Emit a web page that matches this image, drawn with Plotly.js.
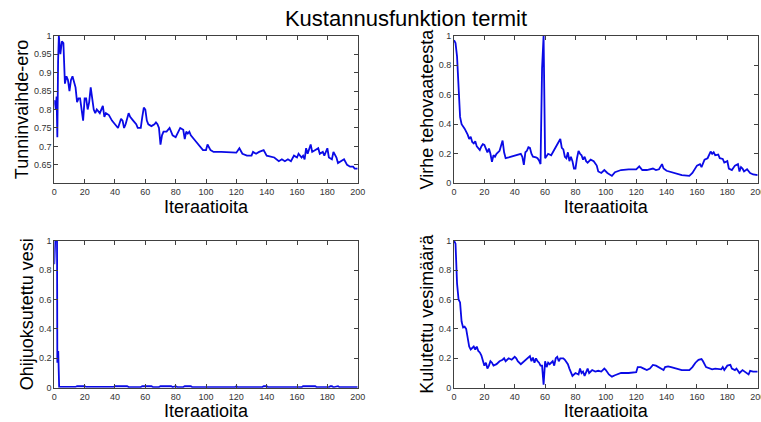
<!DOCTYPE html>
<html>
<head>
<meta charset="utf-8">
<script src="https://cdn.plot.ly/plotly-3.0.1.min.js"></script>
<style>html,body{margin:0;padding:0;background:#fff;}#chart{width:761px;height:422px;}</style>
</head>
<body>
<div id="chart"></div>
<script>
// ---- Data ----
var chartTitle = "Kustannusfunktion termit";
var xTitle = "Iteraatioita";
var yTitles = ["Tunninvaihde-ero", "Virhe tehovaateesta", "Ohijuoksutettu vesi", "Kulutettu vesimäärä"];

var xTickVals = [0, 20, 40, 60, 80, 100, 120, 140, 160, 180, 200];
var yTickValsA = [0.65, 0.7, 0.75, 0.8, 0.85, 0.9, 0.95, 1];
var yTickTextA = ["0.65", "0.7", "0.75", "0.8", "0.85", "0.9", "0.95", "1"];
var yTickValsB = [0, 0.2, 0.4, 0.6, 0.8, 1];
var yTickTextB = ["0", "0.2", "0.4", "0.6", "0.8", "1"];

// Tunninvaihde-ero
var tvX = [0,1,1.5,2,2.5,3,4,5,6,7,8,9,10,11,12,13,14,15,16,17,18,19,20,21,22,23,24,25,26,27,28,30,32,33,34,36,38,40,42,44,45,46,47,49,50,52,54,55,57,58,59,60,61,62,64,66,67,68,69,70,71,72,74,76,78,80,82,83,85,86,87,88,89,90,92,94,96,98,100,101,103,105,110,115,120,122,124,127,130,131,133,135,138,140,145,148,150,152,154,156,158,160,161,163,164,165,166,167,169,170,172,174,175,177,178,180,181,183,184,186,187,189,191,193,195,197,198,200];
var tvY = [0.825,0.8,0.835,0.725,0.93,1.0,0.95,0.985,0.98,0.87,0.89,0.88,0.85,0.88,0.89,0.87,0.86,0.82,0.83,0.83,0.80,0.77,0.83,0.83,0.80,0.82,0.86,0.82,0.80,0.79,0.80,0.79,0.81,0.78,0.79,0.785,0.77,0.76,0.75,0.775,0.77,0.75,0.76,0.79,0.78,0.77,0.76,0.75,0.75,0.78,0.805,0.80,0.77,0.76,0.755,0.76,0.765,0.76,0.75,0.705,0.73,0.74,0.74,0.75,0.73,0.725,0.74,0.75,0.745,0.72,0.74,0.735,0.74,0.73,0.72,0.71,0.70,0.69,0.69,0.705,0.69,0.685,0.685,0.685,0.683,0.695,0.68,0.675,0.675,0.685,0.68,0.685,0.69,0.675,0.67,0.66,0.665,0.66,0.665,0.66,0.675,0.67,0.68,0.67,0.675,0.665,0.695,0.68,0.705,0.685,0.69,0.695,0.68,0.685,0.675,0.695,0.67,0.665,0.685,0.67,0.655,0.66,0.665,0.65,0.645,0.645,0.64,0.64];

// Virhe tehovaateesta
var vtX = [0,1,2,3,4,5,7,9,10,11,12,13,14,15,16,17,18,19,20,21,22,23,24,25,26,27,28,30,31,32,33,34,36,38,40,42,44,45,46,47,48,49,50,51,52,54,55,56,57,58,59,60,61,62,64,65,67,68,70,71,72,73,74,75,76,77,78,79,80,81,82,83,84,85,86,87,88,90,92,94,95,97,99,101,103,104,106,108,110,115,120,122,124,127,130,131,133,135,137,138,140,145,150,155,157,160,162,163,165,167,168,169,170,171,172,174,175,177,178,180,181,183,185,187,188,189,190,191,193,195,197,199,200];
var vtY = [0.97,0.95,0.86,0.6,0.45,0.4,0.37,0.33,0.3,0.315,0.28,0.27,0.285,0.25,0.24,0.225,0.25,0.265,0.26,0.24,0.21,0.235,0.2,0.145,0.19,0.18,0.2,0.22,0.26,0.29,0.21,0.17,0.175,0.18,0.19,0.195,0.2,0.18,0.125,0.21,0.22,0.245,0.24,0.2,0.18,0.175,0.17,0.155,0.13,0.78,1.0,0.17,0.19,0.2,0.19,0.21,0.24,0.26,0.3,0.24,0.23,0.18,0.17,0.21,0.15,0.18,0.15,0.1,0.1,0.17,0.22,0.2,0.19,0.16,0.18,0.15,0.14,0.16,0.15,0.12,0.08,0.07,0.09,0.07,0.06,0.05,0.075,0.085,0.09,0.095,0.095,0.115,0.09,0.09,0.095,0.1,0.09,0.095,0.13,0.1,0.085,0.07,0.055,0.05,0.07,0.12,0.13,0.11,0.16,0.17,0.2,0.215,0.2,0.21,0.19,0.195,0.17,0.165,0.14,0.15,0.1,0.09,0.12,0.13,0.08,0.11,0.1,0.08,0.095,0.07,0.06,0.055,0.055];

// Ohijuoksutettu vesi
var ohX = [0,0.6,1.8,2,2.6,3.2,14,15,20,21,39,40,48,49,57,58,64,65,69,70,77,78,80,81,85,86,90,91,119,120,121,137,138,140,141,163,164,172,173,181,182,183,184,187,188,200];
var ohY = [0.84,1.0,1.0,0.17,0.25,0.005,0.005,0.01,0.01,0.005,0.005,0.01,0.01,0.004,0.004,0.01,0.01,0.004,0.004,0.01,0.01,0.004,0.01,0.004,0.004,0.01,0.01,0.003,0.003,0.01,0.003,0.003,0.01,0.01,0.003,0.003,0.01,0.01,0.003,0.003,0.01,0.01,0.003,0.01,0.003,0.003];

// Kulutettu vesimäärä
var kvX = [0,1,2,3,4,5,6,7,8,9,10,11,12,13,14,15,16,17,18,19,20,21,22,23,24,25,26,28,30,32,33,34,36,38,40,41,42,44,46,48,50,51,52,53,54,55,56,57,58,59,60,61,62,63,65,66,67,68,69,70,72,73,75,76,77,78,80,82,83,84,85,86,88,89,91,93,95,97,99,100,102,104,106,108,110,115,118,120,121,123,125,127,129,131,133,135,137,138,139,141,143,145,147,150,155,157,159,161,163,164,166,168,170,172,174,176,177,178,180,182,183,185,186,188,190,192,194,195,197,200];
var kvY = [1.0,0.98,0.71,0.6,0.58,0.45,0.41,0.415,0.4,0.34,0.28,0.26,0.27,0.28,0.26,0.28,0.25,0.24,0.22,0.18,0.15,0.17,0.13,0.15,0.18,0.17,0.15,0.16,0.18,0.19,0.2,0.18,0.2,0.19,0.21,0.2,0.18,0.16,0.18,0.2,0.215,0.18,0.205,0.17,0.2,0.18,0.17,0.15,0.15,0.02,0.18,0.14,0.17,0.16,0.18,0.15,0.2,0.21,0.18,0.2,0.2,0.19,0.16,0.13,0.1,0.08,0.1,0.09,0.13,0.1,0.11,0.08,0.13,0.1,0.12,0.11,0.115,0.11,0.13,0.12,0.09,0.075,0.085,0.095,0.1,0.1,0.1,0.105,0.14,0.14,0.13,0.12,0.13,0.155,0.15,0.14,0.13,0.12,0.14,0.145,0.14,0.135,0.125,0.12,0.12,0.14,0.17,0.19,0.195,0.18,0.14,0.13,0.125,0.13,0.13,0.125,0.14,0.12,0.15,0.155,0.13,0.12,0.13,0.1,0.12,0.105,0.09,0.115,0.11,0.11];

// ---- Figure ----
var W = 761, H = 422;
function px(a, b) { return [a / W, b / W]; }
function py(top, bottom) { return [1 - bottom / H, 1 - top / H]; }

var lineStyle = {color: "#0a0ae6", width: 1.8};
var traces = [
  {x: tvX, y: tvY, xaxis: "x", yaxis: "y", mode: "lines", line: lineStyle, hoverinfo: "x+y"},
  {x: vtX, y: vtY, xaxis: "x2", yaxis: "y2", mode: "lines", line: lineStyle, hoverinfo: "x+y"},
  {x: ohX, y: ohY, xaxis: "x3", yaxis: "y3", mode: "lines", line: lineStyle, hoverinfo: "x+y"},
  {x: kvX, y: kvY, xaxis: "x4", yaxis: "y4", mode: "lines", line: lineStyle, hoverinfo: "x+y"}
];

var fontFam = "Liberation Sans, Arial, sans-serif";
function xAxis(domain, anchor) {
  return {
    domain: domain, anchor: anchor, range: [0, 200], tickvals: xTickVals,
    ticks: "inside", ticklen: 4, tickcolor: "#404040", tickwidth: 1,
    showline: true, linecolor: "#404040", linewidth: 1, mirror: "ticks",
    showgrid: false, zeroline: false, fixedrange: true,
    ticklabeloverflow: "allow",
    tickfont: {family: fontFam, size: 9, color: "#333"},
    title: {text: xTitle, font: {family: fontFam, size: 18, color: "#000"}, standoff: 0},
    automargin: false
  };
}
function yAxis(domain, anchor, range, vals, txt, title) {
  return {
    domain: domain, anchor: anchor, range: range, tickvals: vals, ticktext: txt,
    ticks: "inside", ticklen: 4, tickcolor: "#404040", tickwidth: 1,
    showline: true, linecolor: "#404040", linewidth: 1, mirror: "ticks",
    showgrid: false, zeroline: false, fixedrange: true,
    ticklabeloverflow: "allow",
    tickfont: {family: fontFam, size: 9, color: "#333"},
    title: {text: title, font: {family: fontFam, size: 18, color: "#000"}, standoff: 0},
    automargin: false
  };
}

var xL = px(54.3, 357.7), xR = px(454, 757.7);
var yT = py(35.7, 183.3), yB = py(240.7, 387.7);

var layout = {
  width: W, height: H,
  margin: {l: 0, r: 0, t: 0, b: 0, pad: 0},
  paper_bgcolor: "#fff", plot_bgcolor: "#fff",
  showlegend: false,
  title: {text: chartTitle, font: {family: fontFam, size: 22, color: "#000"},
          x: 406 / W, xanchor: "center", y: 1 - 18 / H, yanchor: "middle", xref: "paper", yref: "paper"},
  xaxis: xAxis(xL, "y"),
  yaxis: yAxis(yT, "x", [0.6, 1], yTickValsA, yTickTextA, yTitles[0]),
  xaxis2: xAxis(xR, "y2"),
  yaxis2: yAxis(yT, "x2", [0, 1], yTickValsB, yTickTextB, yTitles[1]),
  xaxis3: xAxis(xL, "y3"),
  yaxis3: yAxis(yB, "x3", [0, 1], yTickValsB, yTickTextB, yTitles[2]),
  xaxis4: xAxis(xR, "y4"),
  yaxis4: yAxis(yB, "x4", [0, 1], yTickValsB, yTickTextB, yTitles[3])
};

Plotly.newPlot("chart", traces, layout, {staticPlot: true, displayModeBar: false});
</script>
</body>
</html>
